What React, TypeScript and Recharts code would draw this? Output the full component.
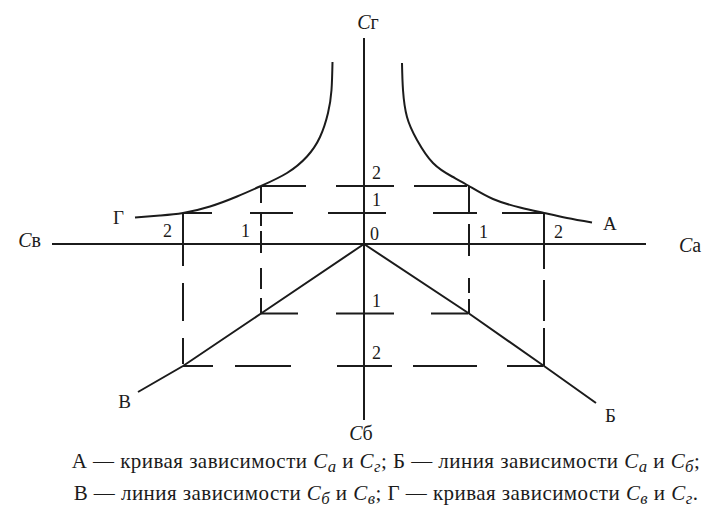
import { LineChart, Line, XAxis, YAxis, ReferenceLine, ReferenceDot } from "recharts";

// деления 1 и 2 на каждой полуоси (условные единицы)
const tickNames = ["1", "2"];
const caTicks = [10.5, 18.0]; // Ca — вправо
const cvTicks = [-10.3, -18.1]; // Cв — влево
const cgTicks = [3.1, 5.8]; // Cг — вверх
const cbTicks = [-6.95, -12.2]; // Cб — вниз

// концы осей
const xAxisEnds = [-31.2, 28.2];
const yAxisEnds = [20.6, -17.6];

// А — кривая зависимости Ca и Cг
const curveA = [
  { x: 3.8, y: 18.1 }, { x: 3.9, y: 15.4 }, { x: 4.3, y: 12.7 }, { x: 5.3, y: 10.4 },
  { x: 6.9, y: 8.1 }, { x: 8.8, y: 6.75 }, { x: 10.5, y: 5.8 }, { x: 12.9, y: 4.5 },
  { x: 15.6, y: 3.65 }, { x: 18.0, y: 3.1 }, { x: 20.3, y: 2.6 }, { x: 22.8, y: 2.15 },
];

// Г — кривая зависимости Cв и Cг
const curveG = [
  { x: -22.9, y: 2.65 }, { x: -20.4, y: 2.85 }, { x: -18.1, y: 3.1 }, { x: -15.4, y: 3.75 },
  { x: -12.7, y: 4.75 }, { x: -10.3, y: 5.8 }, { x: -7.7, y: 7.1 }, { x: -5.7, y: 8.75 },
  { x: -4.4, y: 10.7 }, { x: -3.6, y: 13.1 }, { x: -3.25, y: 15.4 }, { x: -3.15, y: 18.2 },
];

// Б — линия зависимости Ca и Cб
const lineB = [{ x: 0, y: 0 }, { x: 10.5, y: -6.95 }, { x: 18.0, y: -12.2 }, { x: 23.2, y: -15.9 }];

// В — линия зависимости Cб и Cв
const lineV = [{ x: -22.6, y: -14.8 }, { x: -18.1, y: -12.2 }, { x: -10.3, y: -6.95 }, { x: 0, y: 0 }];

const INK = "#1b1b1b";
const SERIF = '"Liberation Serif", "Times New Roman", "DejaVu Serif", serif';

// штрихи проекционных линий (как нарисованы от руки)
const hDashG = ["29 38 43 35 58 47 44 25 42", "45 30 58 20 53"];
const hDashB = ["37 38 58 37 37", "30 22 56 46 55 21 64 30 36"];
const vDashV = ["17 10 13 5 22 15 21 9 15", "53 17 38 17 26"];
const vDashA = ["28 10 32 22 15 6 15", "56 11 41 7 38"];

const Mark = (props: any) => {
  const { viewBox, t, sub, ox = 0, oy = 0, anchor = "start", size = 19, italicC } = props;
  const cx = viewBox.x + (viewBox.width || 0) / 2;
  const cy = viewBox.y + (viewBox.height || 0) / 2;
  return (
    <text x={cx + ox} y={cy + oy} textAnchor={anchor} fontFamily={SERIF} fontSize={size} fill={INK}>
      {italicC ? <tspan fontStyle="italic">C</tspan> : null}
      {italicC ? <tspan>{sub}</tspan> : t}
    </text>
  );
};

const dot = (x: number, y: number, label: any, key: string) => (
  <ReferenceDot key={key} x={x} y={y} r={0} fill="none" stroke="none" label={label} />
);

const Sub = ({ c }: { c: string }) => (
  <>
    <i>C</i>
    <i style={{ fontSize: "0.8em", position: "relative", top: "0.25em" }}>{c}</i>
  </>
);

export default function App() {
  // пара делений: большему Ca соответствует меньшее Cг
  const other = (i: number) => tickNames.length - 1 - i;
  return (
    <div style={{ position: "absolute", left: 0, top: 0, width: 708, height: 508, background: "#fff" }}>
      <LineChart width={708} height={508} margin={{ top: 0, right: 0, bottom: 0, left: 0 }}>
        <XAxis type="number" dataKey="x" domain={[-36.4, 34.4]} scale="linear" allowDataOverflow hide height={0} />
        <YAxis type="number" dataKey="y" domain={[-26.4, 24.4]} scale="linear" allowDataOverflow hide width={0} />

        <ReferenceLine segment={[{ x: xAxisEnds[0], y: 0 }, { x: xAxisEnds[1], y: 0 }]} stroke={INK} strokeWidth={2} />
        <ReferenceLine segment={[{ x: 0, y: yAxisEnds[0] }, { x: 0, y: yAxisEnds[1] }]} stroke={INK} strokeWidth={2} />

        {tickNames.map((_, i) => (
          <ReferenceLine key={"hg" + i} segment={[{ x: cvTicks[other(i)], y: cgTicks[i] }, { x: caTicks[other(i)], y: cgTicks[i] }]}
            stroke={INK} strokeWidth={2} strokeDasharray={hDashG[i]} />
        ))}
        {tickNames.map((_, i) => (
          <ReferenceLine key={"hb" + i} segment={[{ x: cvTicks[i], y: cbTicks[i] }, { x: caTicks[i], y: cbTicks[i] }]}
            stroke={INK} strokeWidth={2} strokeDasharray={hDashB[i]} />
        ))}
        {tickNames.map((_, i) => (
          <ReferenceLine key={"vv" + i} segment={[{ x: cvTicks[i], y: cgTicks[other(i)] }, { x: cvTicks[i], y: cbTicks[i] }]}
            stroke={INK} strokeWidth={2} strokeDasharray={vDashV[i]} />
        ))}
        {tickNames.map((_, i) => (
          <ReferenceLine key={"va" + i} segment={[{ x: caTicks[i], y: cgTicks[other(i)] }, { x: caTicks[i], y: cbTicks[i] }]}
            stroke={INK} strokeWidth={2} strokeDasharray={vDashA[i]} />
        ))}

        <Line data={curveA} dataKey="y" type="natural" stroke={INK} strokeWidth={2} dot={false} activeDot={false} isAnimationActive={false} />
        <Line data={curveG} dataKey="y" type="natural" stroke={INK} strokeWidth={2} dot={false} activeDot={false} isAnimationActive={false} />
        <Line data={lineB} dataKey="y" type="linear" stroke={INK} strokeWidth={2} dot={false} activeDot={false} isAnimationActive={false} />
        <Line data={lineV} dataKey="y" type="linear" stroke={INK} strokeWidth={2} dot={false} activeDot={false} isAnimationActive={false} />

        {/* подписи осей */}
        {dot(0, yAxisEnds[0], <Mark italicC sub="г" ox={4} oy={-9} anchor="middle" size={20} />, "lg")}
        {dot(0, yAxisEnds[1], <Mark italicC sub="б" ox={-3} oy={20} anchor="middle" size={20} />, "lb")}
        {dot(xAxisEnds[0], 0, <Mark italicC sub="в" ox={-11} oy={3} anchor="end" size={20} />, "lv")}
        {dot(xAxisEnds[1], 0, <Mark italicC sub="a" ox={33} oy={8} size={20} />, "la")}

        {/* подписи кривых */}
        {dot(curveA[curveA.length - 1].x, curveA[curveA.length - 1].y, <Mark t="А" ox={11} oy={7} />, "cA")}
        {dot(curveG[0].x, curveG[0].y, <Mark t="Г" ox={-11} oy={6} anchor="end" />, "cG")}
        {dot(lineV[0].x, lineV[0].y, <Mark t="В" ox={-7} oy={16} anchor="end" />, "cV")}
        {dot(lineB[lineB.length - 1].x, lineB[lineB.length - 1].y, <Mark t="Б" ox={9} oy={19} />, "cB")}

        {/* деления */}
        {dot(0, 0, <Mark t="0" ox={6} oy={-4} size={18} />, "t0")}
        {tickNames.map((n, i) => dot(0, cgTicks[i], <Mark t={n} ox={8} oy={-7} size={18} />, "tg" + i))}
        {tickNames.map((n, i) => dot(0, cbTicks[i], <Mark t={n} ox={8} oy={-7} size={18} />, "tb" + i))}
        {tickNames.map((n, i) => dot(cvTicks[i], 0, <Mark t={n} ox={-11} oy={-7} size={18} anchor="end" />, "tv" + i))}
        {tickNames.map((n, i) => dot(caTicks[i], 0, <Mark t={n} ox={10} oy={-6} size={18} />, "ta" + i))}
      </LineChart>

      <div style={{ position: "absolute", left: 64, top: 446, width: 644, textAlign: "center", fontFamily: SERIF, fontSize: 21, letterSpacing: "0.45px", lineHeight: "30px", color: INK, whiteSpace: "nowrap" }}>
        <div>А — кривая зависимости <Sub c="a" /> и <Sub c="г" />; Б — линия зависимости <Sub c="a" /> и <Sub c="б" />;</div>
        <div>В — линия зависимости <Sub c="б" /> и <Sub c="в" />; Г — кривая зависимости <Sub c="в" /> и <Sub c="г" />.</div>
      </div>
    </div>
  );
}
